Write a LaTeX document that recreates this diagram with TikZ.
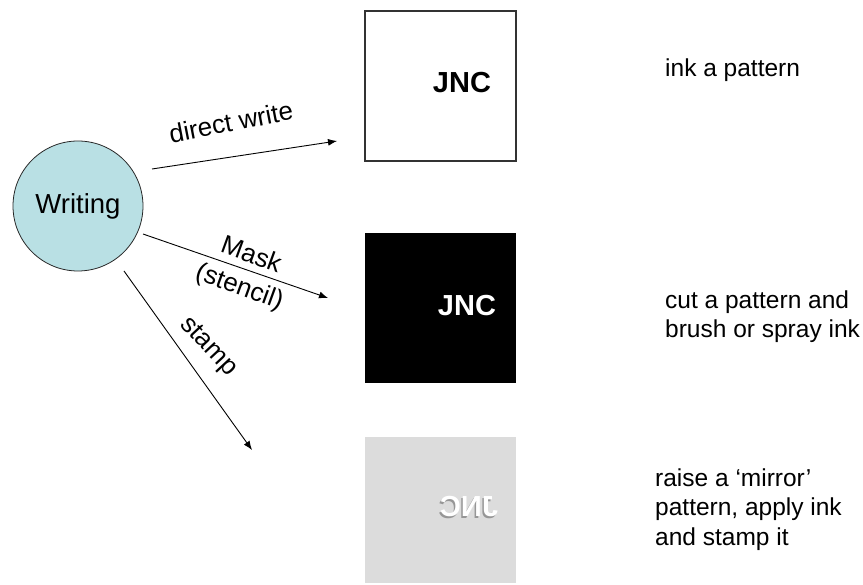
\documentclass[tikz,border=0pt]{standalone}
\usepackage{fontspec}
\setmainfont{Liberation Sans}
\usepackage{graphicx}
\usetikzlibrary{arrows.meta}
\definecolor{circfill}{RGB}{185,224,228}
\definecolor{stampgray}{RGB}{220,220,220}
\definecolor{shadowgray}{RGB}{150,150,150}
\begin{document}
\begin{tikzpicture}[x=1pt,y=-1pt,
  txt/.style={font=\fontsize{24.5}{29.5}\selectfont, align=left, inner sep=0pt},
  lbl/.style={font=\fontsize{26}{34}\selectfont, align=center, inner sep=0pt},
  jnc/.style={font=\fontsize{29}{32}\selectfont\bfseries, inner sep=0pt},
  panel/.style={minimum width=151pt, inner sep=0pt},
  conn/.style={-{Latex[length=9pt,width=7pt]}, line width=0.9pt}]
\useasboundingbox (0,0) rectangle (863,585);

% central circle
\node[circle, draw=black!85, line width=0.8pt, fill=circfill, minimum size=130pt,
      inner sep=0pt, font=\fontsize{27.5}{30}\selectfont] (w) at (78,206) {Writing};

% panels
\node[panel, draw=black!80, line width=1.2pt, fill=white, minimum height=150pt] (b1) at (440.5,86) {};
\node[panel, fill=black, minimum height=150pt] (b2) at (440.5,308) {};
\node[panel, fill=stampgray, minimum height=146pt] (b3) at (440.5,510) {};

\node[jnc, text=black] (j1) at (462,83) {JNC};
\node[jnc, text=white] (j2) at (467,305.5) {JNC};
\node[jnc, text=shadowgray] (j3s) at (467.5,508.5) {\scalebox{-1}[1]{JNC}};
\node[jnc, text=white] (j3) at (469,507) {\scalebox{-1}[1]{JNC}};

% connector end points
\coordinate (s1) at (152,169);
\coordinate (e1) at (337,141);
\coordinate (s2) at (143,234);
\coordinate (e2) at (328,298);
\coordinate (s3) at (124,271);
\coordinate (e3) at (252,450);

\draw[conn] (s1) -- (e1);
\draw[conn] (s2) -- (e2);
\draw[conn] (s3) -- (e3);

% arrow labels
\node[lbl, rotate=11] (l1) at (231,122) {direct write};
\node[lbl, rotate=-20] (l2) at (245,272) {Mask\\(stencil)};
\node[lbl, rotate=-47] (l3) at (208,347) {stamp};

% descriptions
\node[txt, anchor=base west] (t1) at (665,77) {ink a pattern};
\node[txt, anchor=base west] (t2) at (665,338) {cut a pattern and\\brush or spray ink};
\node[txt, anchor=base west] (t3) at (655,545) {raise a ‘mirror’\\pattern, apply ink\\and stamp it};
\end{tikzpicture}
\end{document}
